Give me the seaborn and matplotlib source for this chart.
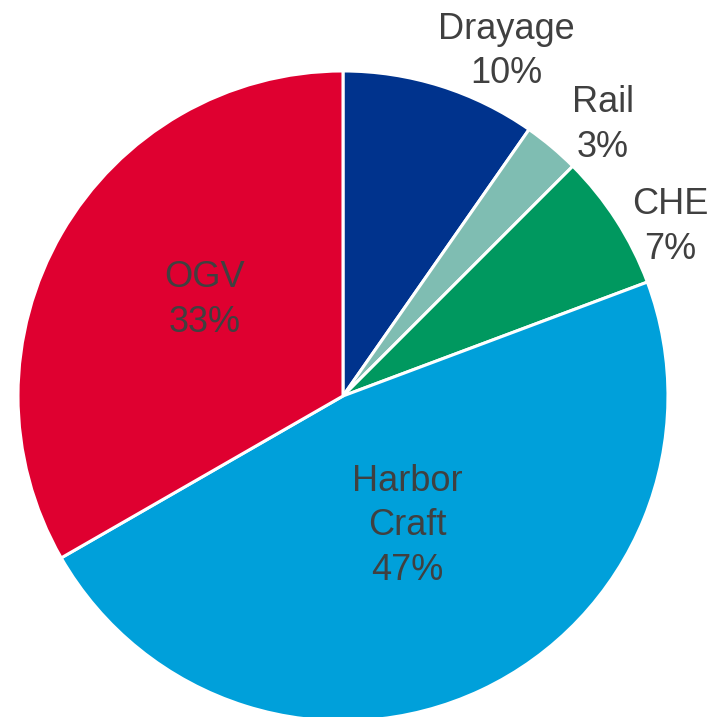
import matplotlib
matplotlib.use("Agg")
import matplotlib.pyplot as plt
import seaborn as sns

# Shares (labels show rounded percents)
categories = ["Drayage", "Rail", "CHE", "Harbor\nCraft", "OGV"]
shares = [9.7, 2.8, 6.8, 47.4, 33.3]
colors = ["#00338D", "#7FBDB2", "#00985F", "#00A0DA", "#DF0030"]

# label anchor points (axes data units, pie radius = 1)
label_pos = [(0.502, 1.060), (0.800, 0.834), (1.006, 0.520),
             (0.197, -0.400), (-0.425, 0.296)]

sns.set_theme(style="white")
plt.rcParams["font.family"] = ["Liberation Sans", "DejaVu Sans"]

fig = plt.figure(figsize=(7.21, 7.17), dpi=100)
ax = fig.add_axes([0.02497, -0.00558, 0.9015, 0.9066])

wedges, _ = ax.pie(shares, colors=colors, startangle=90, counterclock=False,
                   wedgeprops=dict(edgecolor="white", linewidth=2.2))
ax.set_xlim(-1, 1)
ax.set_ylim(-1, 1)
ax.set_aspect("auto")
ax.axis("off")

total = sum(shares)
for name, val, (x, y) in zip(categories, shares, label_pos):
    ax.text(x, y, f"{name}\n{val / total * 100:.0f}%", ha="center", va="center",
            fontsize=26, color="#404040", linespacing=1.35, clip_on=False)

fig.savefig("out.png", dpi=100)
